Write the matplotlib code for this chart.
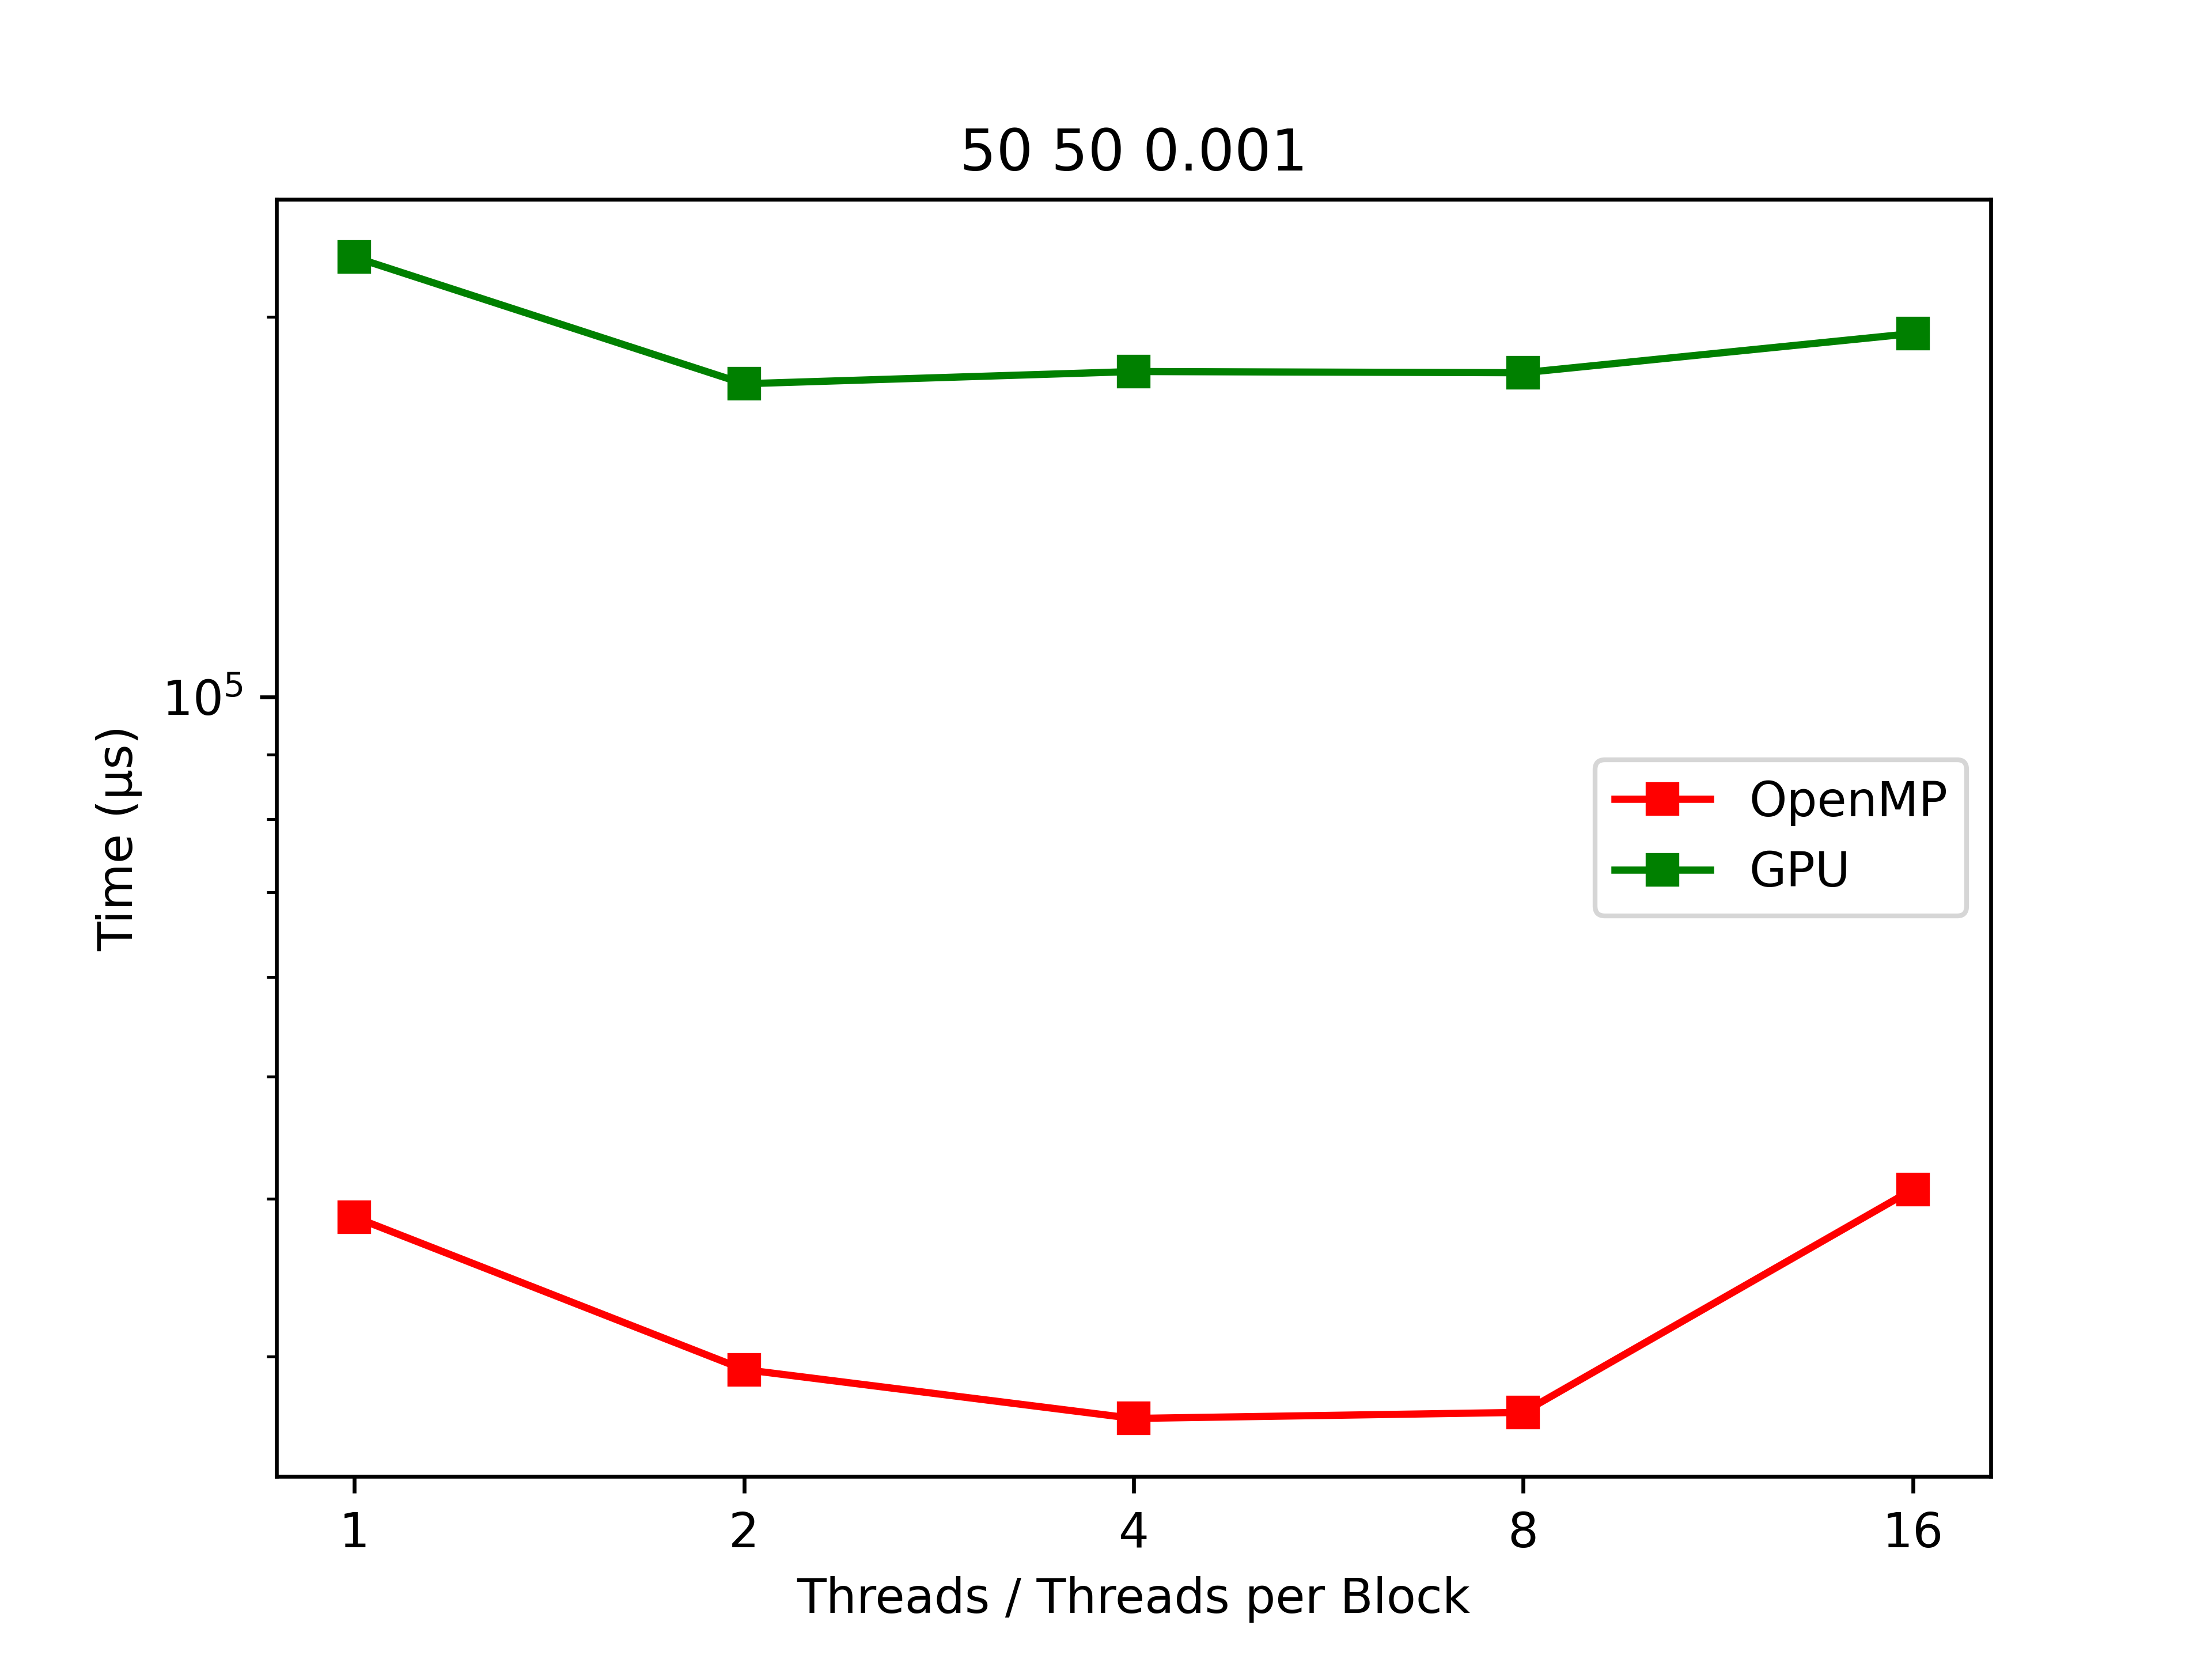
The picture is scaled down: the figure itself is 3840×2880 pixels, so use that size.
import matplotlib
matplotlib.use('Agg')
import matplotlib.pyplot as plt

threads = [1, 2, 4, 8, 16]
openmp_us = [38700, 29300, 26800, 27100, 40700]
gpu_us = [223000, 177000, 181000, 180600, 194000]

fig, ax = plt.subplots(figsize=(6.4, 4.8), dpi=600)
pos = list(range(len(threads)))
ax.plot(pos, openmp_us, marker='s', color='red', label='OpenMP')
ax.plot(pos, gpu_us, marker='s', color='green', label='GPU')
ax.set_yscale('log')
ax.set_xticks(pos)
ax.set_xticklabels([str(t) for t in threads])
ax.set_xlabel('Threads / Threads per Block')
ax.set_ylabel('Time (µs)')
ax.set_title('50 50 0.001')
ax.legend(loc='center right')
fig.savefig('out.png')
